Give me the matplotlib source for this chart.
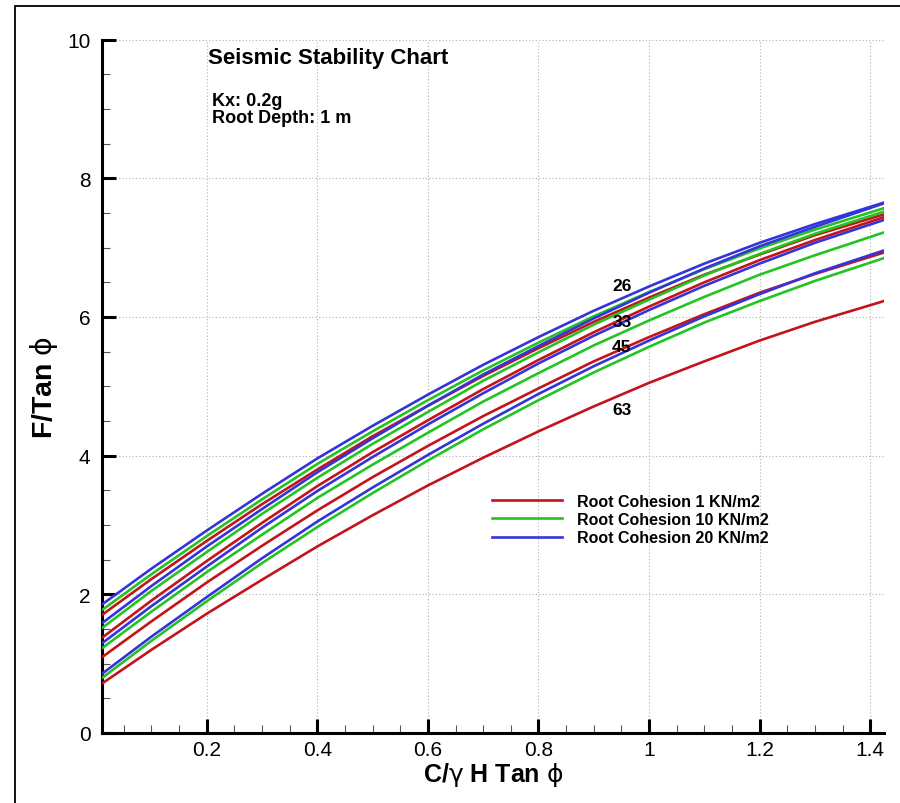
import matplotlib
matplotlib.use('Agg')
import matplotlib.pyplot as plt
from matplotlib.patches import Rectangle
from matplotlib.ticker import MultipleLocator

plt.rcParams['font.family'] = ['Liberation Sans', 'DejaVu Sans']

# sample points along C/(gamma H tan phi)
x_vals = [0.01, 0.1, 0.2, 0.3, 0.4, 0.5, 0.6, 0.7, 0.8, 0.9, 1.0, 1.1, 1.2, 1.3, 1.425]

slope_labels = ['26', '33', '45', '63']

# F/tan(phi) for root cohesion 1 kN/m2, one row per slope angle
coh1 = [
    [1.70, 2.22, 2.77, 3.30, 3.80, 4.28, 4.72, 5.15, 5.55, 5.93, 6.28, 6.61, 6.90, 7.18, 7.48],
    [1.37, 1.91, 2.48, 3.03, 3.56, 4.05, 4.51, 4.96, 5.38, 5.78, 6.15, 6.50, 6.82, 7.11, 7.44],
    [1.09, 1.61, 2.17, 2.70, 3.21, 3.69, 4.14, 4.57, 4.97, 5.36, 5.71, 6.04, 6.35, 6.62, 6.93],
    [0.71, 1.20, 1.72, 2.21, 2.69, 3.14, 3.57, 3.97, 4.35, 4.71, 5.05, 5.36, 5.66, 5.93, 6.23],
]
# root cohesion 10 kN/m2
coh10 = [
    [1.77, 2.29, 2.84, 3.37, 3.88, 4.35, 4.80, 5.23, 5.63, 6.01, 6.36, 6.69, 6.99, 7.26, 7.57],
    [1.51, 2.05, 2.61, 3.16, 3.68, 4.17, 4.63, 5.08, 5.49, 5.89, 6.25, 6.60, 6.91, 7.20, 7.52],
    [1.22, 1.75, 2.32, 2.86, 3.39, 3.87, 4.33, 4.78, 5.19, 5.59, 5.95, 6.29, 6.61, 6.89, 7.22],
    [0.79, 1.33, 1.90, 2.45, 2.97, 3.46, 3.93, 4.38, 4.80, 5.20, 5.57, 5.92, 6.23, 6.52, 6.85],
]
# root cohesion 20 kN/m2
coh20 = [
    [1.85, 2.37, 2.92, 3.45, 3.96, 4.43, 4.88, 5.31, 5.71, 6.09, 6.44, 6.77, 7.07, 7.34, 7.65],
    [1.58, 2.12, 2.69, 3.23, 3.76, 4.25, 4.72, 5.17, 5.58, 5.98, 6.35, 6.70, 7.02, 7.30, 7.64],
    [1.29, 1.83, 2.40, 2.96, 3.49, 3.98, 4.45, 4.90, 5.33, 5.73, 6.10, 6.45, 6.77, 7.07, 7.40],
    [0.85, 1.39, 1.96, 2.52, 3.05, 3.54, 4.01, 4.46, 4.89, 5.29, 5.66, 6.01, 6.33, 6.63, 6.96],
]

series = [('Root Cohesion 1 KN/m2', coh1, '#C3141C'),
          ('Root Cohesion 10 KN/m2', coh10, '#22C422'),
          ('Root Cohesion 20 KN/m2', coh20, '#3434DA')]

fig = plt.figure(figsize=(9, 8.04), dpi=100)
ax = fig.add_axes([0.113, 0.0871, 0.8692, 0.8623])

for name, rows, col in series:
    for i, row in enumerate(rows):
        ax.plot(x_vals, row, color=col, lw=1.9, zorder=3,
                label=name if i == 0 else None)

# slope angle labels
label_pos = [(0.951, 6.46), (0.951, 5.93), (0.951, 5.57), (0.951, 4.67)]
for txt, (lx, ly) in zip(slope_labels, label_pos):
    ax.text(lx, ly, txt, fontsize=12.5, fontweight='bold', ha='center', va='center', zorder=4)

ax.set_xlim(0.01, 1.425)
ax.set_ylim(0, 10)
ax.xaxis.set_major_locator(MultipleLocator(0.2))
ax.xaxis.set_minor_locator(MultipleLocator(0.05))
ax.yaxis.set_major_locator(MultipleLocator(2))
ax.yaxis.set_minor_locator(MultipleLocator(0.5))
ax.set_xticks([0.2, 0.4, 0.6, 0.8, 1.0, 1.2, 1.4])
ax.set_xticklabels(['0.2', '0.4', '0.6', '0.8', '1', '1.2', '1.4'])

ax.grid(True, which='major', ls=(0, (1, 2)), color='#b0b0b0', lw=0.8, zorder=0)

for s in ['top', 'right']:
    ax.spines[s].set_visible(False)
for s in ['left', 'bottom']:
    ax.spines[s].set_linewidth(2.2)

ax.tick_params(which='major', direction='in', length=10, width=2.2, labelsize=15, pad=8)
ax.tick_params(which='minor', direction='in', length=5.5, width=0.8, color='#555555')
ax.tick_params(axis='x', which='major', pad=5)

ax.set_xlabel('C/$\\mathrm{\\gamma}$ H Tan $\\mathrm{\\phi}$', fontsize=18, fontweight='bold', labelpad=1)
ax.set_ylabel('F/Tan $\\mathrm{\\phi}$', fontsize=20.5, fontweight='bold', labelpad=5)

ax.text(0.136, 0.975, 'Seismic Stability Chart', transform=ax.transAxes,
        fontsize=16, fontweight='bold', va='center')
ax.text(0.141, 0.9, 'Kx: 0.2g\nRoot Depth: 1 m', transform=ax.transAxes,
        fontsize=13, fontweight='bold', va='center', linespacing=1.05)

ax.legend(loc='upper left', bbox_to_anchor=(0.499, 0.345), frameon=False,
          prop={'weight': 'bold', 'size': 11.5},
          handlelength=4.4, handletextpad=0.9, labelspacing=0.2, borderpad=0,
          borderaxespad=0)

# outer frame around the picture
fig.patches.append(Rectangle((15 / 900, -0.1), 2, 1.1 - 7 / 804, transform=fig.transFigure,
                             fill=False, edgecolor='black', lw=1.3))

fig.savefig('out.png', dpi=100)
